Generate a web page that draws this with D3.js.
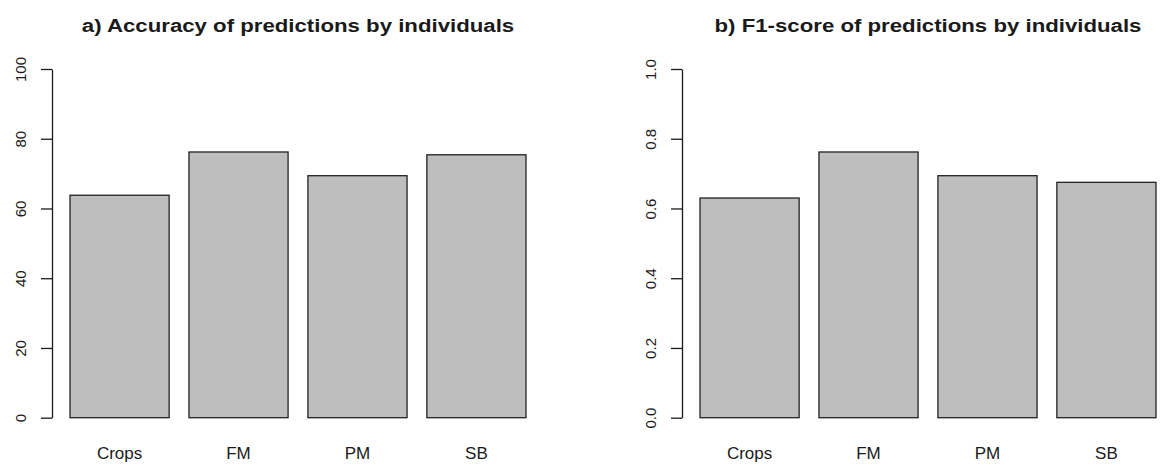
<!DOCTYPE html>
<html>
<head>
<meta charset="utf-8">
<script src="https://cdn.jsdelivr.net/npm/d3@7"></script>
<style>
  body { margin: 0; background: #fff; }
  svg { display: block; }
  text { font-family: "Liberation Sans", Arial, Helvetica, sans-serif; fill: #1a1a1a; }
</style>
</head>
<body>
<div id="chart"></div>
<script>
// data
var categories = ["Crops", "FM", "PM", "SB"];
var accuracy = [63.8, 76.2, 69.4, 75.4];
var f1score = [0.630, 0.762, 0.694, 0.675];
var accTicks = [0, 20, 40, 60, 80, 100];
var f1Ticks = [0, 0.2, 0.4, 0.6, 0.8, 1.0];

var width = 1161,
    height = 473;

var svg = d3.select("#chart").append("svg")
    .attr("width", width)
    .attr("height", height);

function panel(ox, title, values, ymax, ticks, fmt) {
  var g = svg.append("g")
      .attr("transform", "translate(" + ox + ",0)");

  var axisX = 52;

  var x = d3.scaleBand()
      .domain(categories)
      .range([70, 526])
      .paddingInner(1 / 6)
      .paddingOuter(0);

  var y = d3.scaleLinear()
      .domain([0, ymax])
      .range([417.7, 69]);

  // bars
  g.selectAll(".bar")
    .data(values)
    .enter().append("rect")
      .attr("class", "bar")
      .attr("x", function(d, i) { return x(categories[i]); })
      .attr("y", function(d) { return y(d); })
      .attr("width", x.bandwidth())
      .attr("height", function(d) { return y(0) - y(d); })
      .style("fill", "#bebebe")
      .style("stroke", "#222")
      .style("stroke-width", 1.3);

  // y axis
  var yAxis = d3.axisLeft(y)
      .tickValues(ticks)
      .tickFormat(fmt)
      .tickSize(11)
      .tickSizeOuter(0);

  var ax = g.append("g")
      .attr("transform", "translate(" + axisX + ",0)")
      .call(yAxis);

  ax.select(".domain").attr("stroke", "#1a1a1a").attr("stroke-width", 1.3);
  ax.selectAll(".tick line").attr("stroke", "#1a1a1a").attr("stroke-width", 1.3);
  ax.selectAll(".tick text")
      .attr("x", null)
      .attr("dy", null)
      .attr("text-anchor", "middle")
      .attr("transform", "translate(-26.5,0) rotate(-90)")
      .style("font-size", "15px")
      .style("font-family", "'Liberation Sans', Arial, sans-serif")
      .attr("fill", "#1a1a1a");

  // category names
  g.selectAll(".cat")
    .data(categories)
    .enter().append("text")
      .attr("class", "cat")
      .attr("text-anchor", "middle")
      .attr("x", function(d) { return x(d) + x.bandwidth() / 2; })
      .attr("y", 458.5)
      .style("font-size", "17px")
      .text(function(d) { return d; });

  // title, a little wider than the font's own shape
  g.append("text")
      .attr("text-anchor", "middle")
      .attr("transform", "translate(298,32) scale(1.17,1)")
      .style("font-size", "19px")
      .style("font-weight", "bold")
      .text(title);
}

panel(0, "a) Accuracy of predictions by individuals", accuracy, 100, accTicks, d3.format("d"));
panel(630, "b) F1-score of predictions by individuals", f1score, 1, f1Ticks, d3.format(".1f"));
</script>
</body>
</html>
